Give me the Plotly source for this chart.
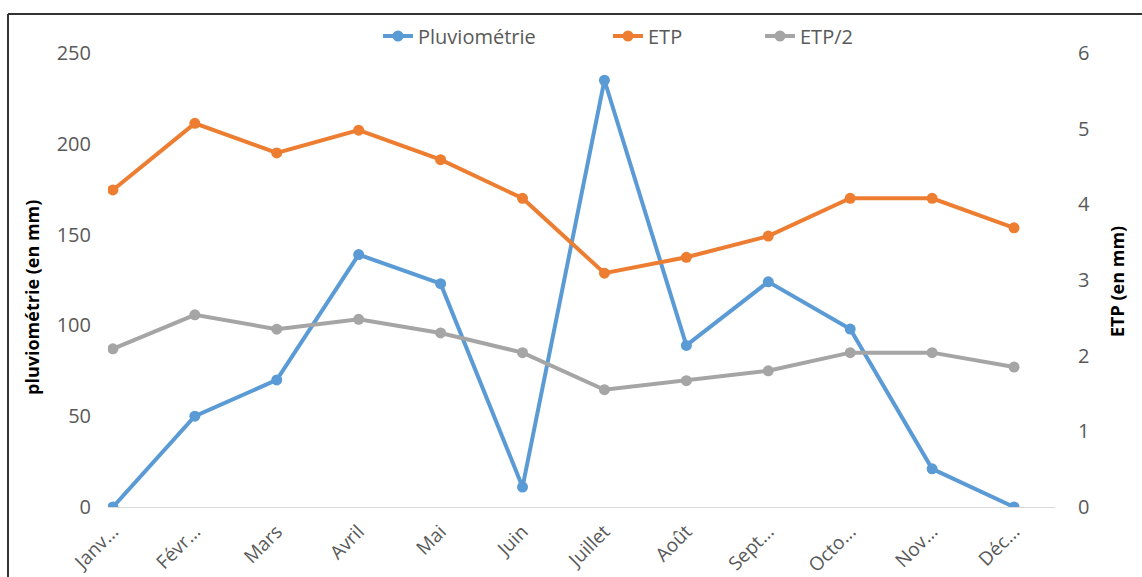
import plotly.graph_objects as go

months = ["Janv...", "Févr...", "Mars", "Avril", "Mai", "Juin", "Juillet",
          "Août", "Sept...", "Octo...", "Nov...", "Déc..."]
pluviometrie = [0, 50, 70, 139, 123, 11, 235, 89, 124, 98, 21, 0]
etp = [4.19, 5.07, 4.68, 4.98, 4.59, 4.08, 3.09, 3.30, 3.58, 4.08, 4.08, 3.69]
etp_half = [2.09, 2.54, 2.35, 2.48, 2.30, 2.04, 1.55, 1.67, 1.80, 2.04, 2.04, 1.85]

BLUE = "#5B9BD5"
ORANGE = "#ED7D31"
GREY = "#A5A5A5"
FONT = "Open Sans"
TICKC = "#595959"

W, H = 1142, 577
ML, MR, MT, MB = 108, 1142 - 1055, 53, 577 - 507
PW, PH = W - ML - MR, H - MT - MB


def px_x(px):
    return (px - ML) / PW


def px_y(py):
    return (H - MB - py) / PH


fig = go.Figure()
fig.add_trace(go.Scatter(x=list(range(12)), y=pluviometrie, name="Pluviométrie",
                         mode="lines+markers", line=dict(color=BLUE, width=4),
                         marker=dict(size=11, color=BLUE), legend="legend"))
fig.add_trace(go.Scatter(x=list(range(12)), y=etp, name="ETP", yaxis="y2",
                         mode="lines+markers", line=dict(color=ORANGE, width=4),
                         marker=dict(size=11, color=ORANGE), legend="legend2"))
fig.add_trace(go.Scatter(x=list(range(12)), y=etp_half, name="ETP/2", yaxis="y2",
                         mode="lines+markers", line=dict(color=GREY, width=4),
                         marker=dict(size=11, color=GREY), legend="legend3"))

legend_common = dict(orientation="h", xref="paper", yref="paper", xanchor="left",
                     yanchor="middle", y=px_y(36), bgcolor="rgba(0,0,0,0)",
                     font=dict(family=FONT, size=20, color=TICKC))

fig.update_layout(
    width=W, height=H, autosize=False,
    margin=dict(l=ML, r=MR, t=MT, b=MB, autoexpand=False),
    plot_bgcolor="white", paper_bgcolor="white",
    font=dict(family=FONT, size=20, color=TICKC),
    xaxis=dict(range=[-0.06, 11.5], tickmode="array", tickvals=list(range(12)),
               ticktext=months, tickangle=-45, showgrid=False, zeroline=False,
               showline=True, linecolor="#D9D9D9", linewidth=1, ticks="",
               ticklabelstandoff=5, automargin=False,
               tickfont=dict(family=FONT, size=19, color=TICKC)),
    yaxis=dict(range=[0, 250], dtick=50, showgrid=False, zeroline=False,
               showline=False, ticks="", ticklabelstandoff=16, automargin=False,
               tickfont=dict(family=FONT, size=20, color=TICKC)),
    yaxis2=dict(range=[0, 6], dtick=1, overlaying="y", side="right",
                showgrid=False, zeroline=False, showline=False, ticks="",
                ticklabelstandoff=22, automargin=False,
                tickfont=dict(family=FONT, size=20, color=TICKC)),
    legend=dict(x=px_x(378), **legend_common),
    legend2=dict(x=px_x(608), **legend_common),
    legend3=dict(x=px_x(760), **legend_common),
    showlegend=True,
)

fig.add_annotation(text="pluviométrie (en mm)", xref="paper", yref="paper",
                   x=px_x(32), y=px_y(298), textangle=-90, showarrow=False,
                   xanchor="center", yanchor="middle",
                   font=dict(family=FONT, size=18, color="black", weight="bold"))
fig.add_annotation(text="ETP (en mm)", xref="paper", yref="paper",
                   x=px_x(1117), y=px_y(282), textangle=-90, showarrow=False,
                   xanchor="center", yanchor="middle",
                   font=dict(family=FONT, size=18, color="black", weight="bold"))

# chart frame (left and top edges visible)
frame = dict(color="#333333", width=2)
fig.add_shape(type="line", xref="paper", yref="paper",
              x0=px_x(8), x1=px_x(8), y0=px_y(590), y1=px_y(14),
              line=frame, layer="below")
fig.add_shape(type="line", xref="paper", yref="paper",
              x0=px_x(8), x1=px_x(1150), y0=px_y(14), y1=px_y(14),
              line=frame, layer="below")

fig.write_html("out.html",
               config={"displayModeBar": False},
               post_script="document.body.style.margin='0';"
                           "document.body.style.overflow='hidden';")
